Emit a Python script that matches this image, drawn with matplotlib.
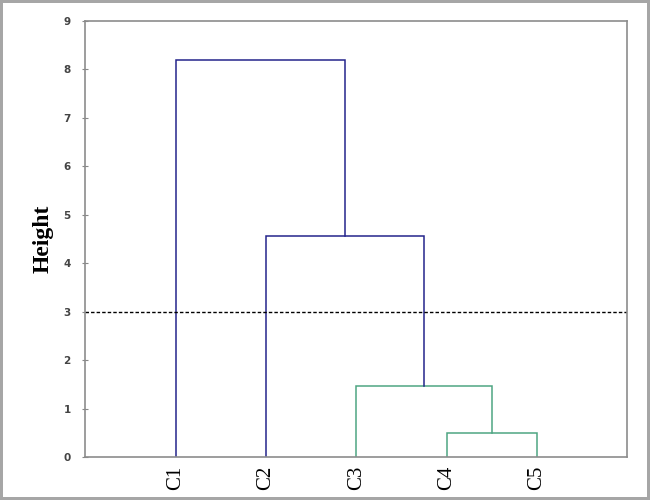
import matplotlib.pyplot as plt

# leaves, in display order
leaves = ["C1", "C2", "C3", "C4", "C5"]
# merges: (left node, right node, height); nodes 5.. are earlier merges
merge_left = [3, 2, 1, 0]
merge_right = [4, 5, 6, 7]
merge_height = [0.50, 1.47, 4.57, 8.20]
cut_height = 3

BLUE = "#24248c"
GREEN = "#4ea583"

fig = plt.figure(figsize=(6.5, 5), dpi=100)
fig.patch.set_edgecolor("#a6a6a6")
fig.patch.set_linewidth(3)
ax = fig.add_axes([0.131, 0.086, 0.834, 0.872])

# node positions: leaves at 1..n, merges at the middle of their children
node_x = [i + 1 for i in range(len(leaves))]
node_y = [0.0] * len(leaves)
for l, r, h in zip(merge_left, merge_right, merge_height):
    color = GREEN if h < cut_height else BLUE
    xs = [node_x[l], node_x[l], node_x[r], node_x[r]]
    ys = [node_y[l], h, h, node_y[r]]
    ax.plot(xs, ys, color=color, lw=1.1, solid_joinstyle="miter")
    node_x.append((node_x[l] + node_x[r]) / 2)
    node_y.append(h)

ax.axhline(cut_height, color="black", lw=1.0, ls=(0, (2.5, 1.5)))

ax.set_xlim(0, len(leaves) + 1)
ax.set_ylim(0, 9)
ax.set_xticks(range(1, len(leaves) + 1))
ax.set_xticklabels(leaves, rotation=90, family="Liberation Serif", fontsize=15)
ax.tick_params(axis="x", length=0, pad=6)
ax.set_yticks(range(0, 10))
ax.tick_params(axis="y", direction="inout", length=5, color="#888888",
               labelsize=7.5, pad=8)
for lab in ax.get_yticklabels():
    lab.set_fontweight("bold")
    lab.set_color("#444444")
for s in ax.spines.values():
    s.set_color("#8c8c8c")
    s.set_linewidth(1.2)

ax.set_ylabel("Height", family="Liberation Serif", fontweight="bold",
              fontsize=17, labelpad=7)

fig.savefig("out.png", dpi=100)
